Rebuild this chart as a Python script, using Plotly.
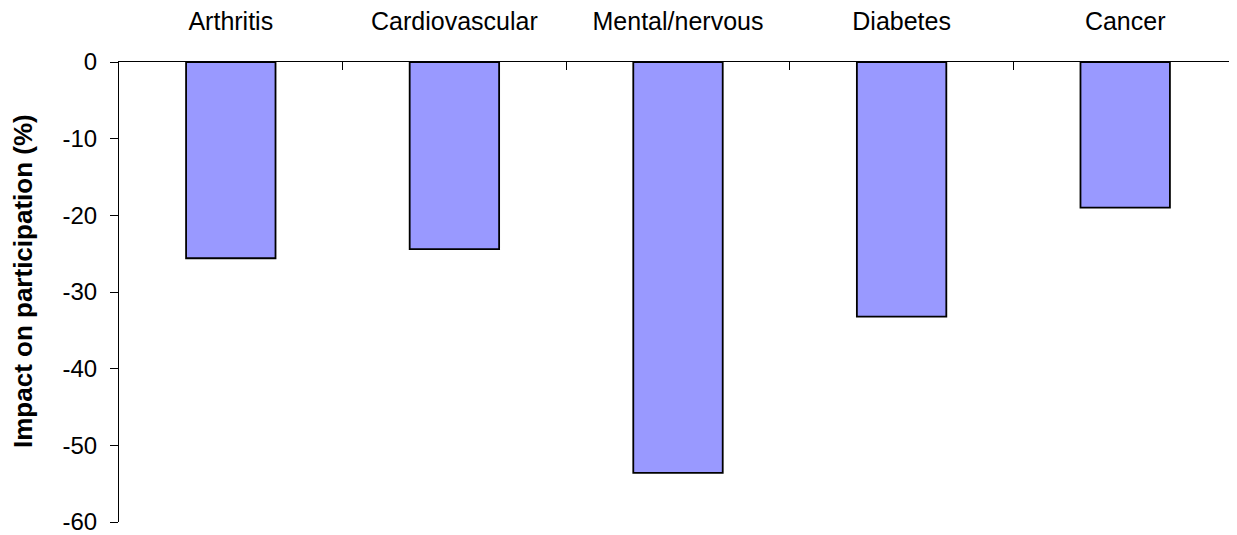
import plotly.graph_objects as go

categories = ["Arthritis", "Cardiovascular", "Mental/nervous", "Diabetes", "Cancer"]
impact = [-25.6, -24.4, -53.6, -33.2, -19.0]
y_ticks = [0, -10, -20, -30, -40, -50, -60]
y_tick_labels = ["0", "-10", "-20", "-30", "-40", "-50", "-60"]

fig = go.Figure()
fig.add_trace(
    go.Bar(
        x=categories,
        y=impact,
        width=0.4,
        marker=dict(color="#9999FF", line=dict(color="black", width=1.8)),
    )
)

# page body adds an 8px offset, so the figure is sized to fill the rest of the window
fig.update_layout(
    width=1229,
    height=527,
    margin=dict(l=111, r=0, t=54, b=13),
    plot_bgcolor="white",
    paper_bgcolor="white",
    showlegend=False,
    font=dict(family="Liberation Sans, Arial, sans-serif", size=24, color="black"),
)
fig.update_xaxes(
    side="top",
    automargin=False,
    showline=True,
    linecolor="black",
    linewidth=1,
    ticks="inside",
    tickson="boundaries",
    ticklen=8,
    tickcolor="black",
    tickfont=dict(size=25),
    ticklabelstandoff=21,
    showgrid=False,
)
fig.update_yaxes(
    range=[-60, 0],
    automargin=False,
    tickvals=y_ticks,
    ticktext=y_tick_labels,
    ticklabeloverflow="allow",
    showline=True,
    linecolor="black",
    linewidth=1,
    ticks="outside",
    ticklen=8,
    tickcolor="black",
    ticklabelstandoff=8,
    tickfont=dict(size=24),
    showgrid=False,
    zeroline=False,
)

# y title as an annotation so it can sit slightly above centre like the original
fig.add_annotation(
    text="<b>Impact on participation (%)</b>",
    xref="paper",
    yref="paper",
    x=0,
    y=0.5,
    xanchor="center",
    yanchor="middle",
    xshift=-96,
    yshift=11,
    textangle=-90,
    showarrow=False,
    font=dict(size=26),
)

fig.write_html("out.html")
